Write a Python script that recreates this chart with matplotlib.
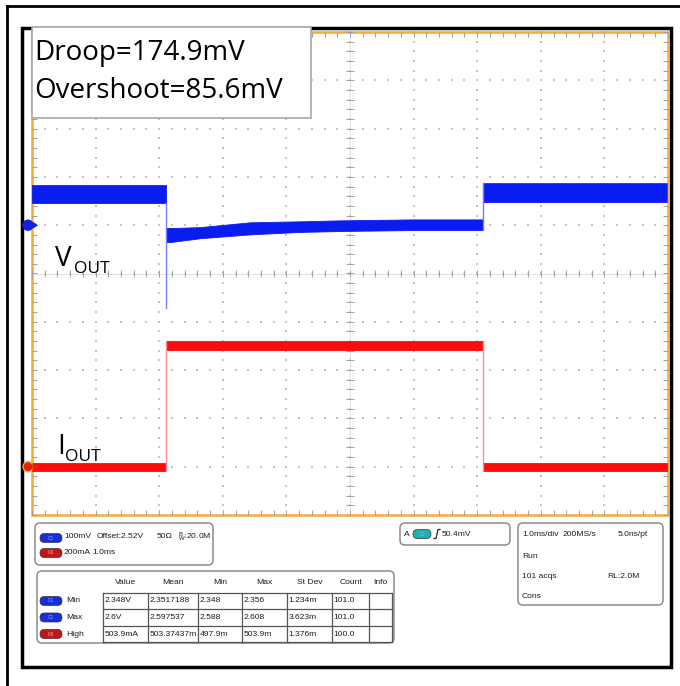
"""Load-step transient capture (Vout droop / overshoot) redrawn as a scope screen."""
import matplotlib as mpl
mpl.use("Agg")
import matplotlib.pyplot as plt
from matplotlib.patches import FancyBboxPatch, Rectangle, Circle, Polygon
import numpy as np

# C1: Vout noise envelope (time in ms, volts)
v_t = [0.0, 2.107, 2.107, 2.17, 2.64, 3.43, 4.2, 4.84, 6.0, 7.09, 7.09, 9.98]
v_upper = [2.603, 2.603, 2.514, 2.514, 2.516, 2.526, 2.528, 2.530, 2.532, 2.532, 2.607, 2.607]
v_lower = [2.566, 2.566, 2.485, 2.485, 2.493, 2.501, 2.506, 2.508, 2.510, 2.510, 2.568, 2.568]
v_droop_t = [2.107, 2.107]
v_droop = [2.566, 2.348]
v_rise_t = [7.09, 7.09]
v_rise = [2.510, 2.607]

# M1: Iout envelope (time in ms, amps)
i_t = [0.0, 2.107, 2.107, 7.09, 7.09, 9.98]
i_upper = [0.017, 0.017, 0.522, 0.522, 0.017, 0.017]
i_lower = [-0.017, -0.017, 0.485, 0.485, -0.017, -0.017]
i_edge_t = [[2.107, 2.107], [7.09, 7.09]]
i_edge = [[-0.017, 0.522], [0.522, -0.017]]

# scope settings
v_per_div = 0.1
v_offset = 2.52     # C1 marker sits one division above centre
i_per_div = 0.2
ms_per_div = 1.0

annot_lines = ["Droop=174.9mV", "Overshoot=85.6mV"]

ch_info = [["100mV", "Offset:2.52V", "50\u03a9", r"$\mathregular{^B_W}$:20.0M"],
           ["200mA", "1.0ms"]]
trig_level = "50.4mV"
timebase = [["1.0ms/div", "200MS/s", "5.0ns/pt"], ["Run"], ["101 acqs", "RL:2.0M"], ["Cons"]]

meas_cols = ["Value", "Mean", "Min", "Max", "St Dev", "Count", "Info"]
meas_rows = ["Min", "Max", "High"]
meas_src = ["C1", "C1", "M1"]
meas_vals = [["2.348V", "2.3517188", "2.348", "2.356", "1.234m", "101.0", ""],
             ["2.6V", "2.597537", "2.588", "2.608", "3.623m", "101.0", ""],
             ["503.9mA", "503.37437m", "497.9m", "503.9m", "1.376m", "100.0", ""]]

BLUE = "#0a1cf0"
RED = "#ff0a0a"
ORANGE = "#f2aa3a"
SMALL = ["Liberation Sans", "DejaVu Sans"]
BIG = ["Open Sans", "DejaVu Sans"]

W, H = 680, 686
fig = plt.figure(figsize=(W / 100, H / 100), dpi=100)


def px_box(x0, y0, x1, y1):
    return [x0 / W, 1 - y1 / H, (x1 - x0) / W, (y1 - y0) / H]


bg = fig.add_axes([0, 0, 1, 1])
bg.set_xlim(0, W)
bg.set_ylim(H, 0)
bg.axis("off")

# frames
bg.plot([7, 7], [6, H], color="black", lw=2)
bg.plot([7, W], [6, 6], color="black", lw=2)
bg.add_patch(Rectangle((22, 28), 649, 639, fill=False, ec="black", lw=2.5))

# ---- graticule ----
SX0, SY0, SX1, SY1 = 32, 32, 668, 515
gax = fig.add_axes(px_box(SX0, SY0, SX1, SY1))
gax.set_xlim(0, 10)
gax.set_ylim(-5, 5)
gax.axis("off")
minor_x = np.arange(0, 10.01, 0.2)
minor_y = np.arange(-5, 5.01, 0.2)
dot_kw = dict(s=1.6, marker="s", color="#c4c4c4", linewidths=0, clip_on=False)
for gx in range(1, 10):
    gax.scatter(np.full(minor_y.size, gx), minor_y, **dot_kw)
for gy in range(-4, 5):
    gax.scatter(minor_x, np.full(minor_x.size, gy), **dot_kw)
tick_c = "#a0a0a0"
# centre cross
gax.plot([0, 10], [0, 0], color="#dadada", lw=0.6)
gax.plot([5, 5], [-5, 5], color="#dadada", lw=0.6)
gax.vlines(minor_x, -0.07, 0.07, color=tick_c, lw=0.7)
gax.hlines(minor_y, 4.93, 5.07, color=tick_c, lw=0.7)
# edge ticks
gax.vlines(minor_x, -5, -4.9, color=tick_c, lw=0.7, clip_on=False)
gax.vlines(minor_x, 4.9, 5, color=tick_c, lw=0.7, clip_on=False)
gax.hlines(minor_y, 0, 0.08, color=tick_c, lw=0.7, clip_on=False)
gax.hlines(minor_y, 9.92, 10, color=tick_c, lw=0.7, clip_on=False)
gax.add_patch(Rectangle((0, -5), 10, 10, fill=False, ec=ORANGE, lw=1.8, clip_on=False))

# ---- traces ----
ax_v = fig.add_axes(px_box(SX0, SY0, SX1, SY1), label="vout")
ax_v.set_xlim(0, 10 * ms_per_div)
ax_v.set_ylim(v_offset - 6 * v_per_div, v_offset + 4 * v_per_div)
ax_v.axis("off")
ax_v.fill_between(v_t, v_lower, v_upper, color=BLUE, lw=0.6, ec=BLUE)
ax_v.plot(v_droop_t, v_droop, color="#7a7aff", lw=1.0)
ax_v.plot(v_rise_t, v_rise, color="#7a7aff", lw=1.0)

ax_i = fig.add_axes(px_box(SX0, SY0, SX1, SY1), label="iout")
ax_i.set_xlim(0, 10 * ms_per_div)
ax_i.set_ylim(-1 * i_per_div, 9 * i_per_div)
ax_i.axis("off")
for et, ev in zip(i_edge_t, i_edge):
    ax_i.plot(et, ev, color="#f59090", lw=1.0)
ax_i.fill_between(i_t, i_lower, i_upper, color=RED, lw=0.6, ec=RED)

# ---- overlay: markers, labels, annotation, panels ----
top = fig.add_axes([0, 0, 1, 1], label="overlay")
top.set_xlim(0, W)
top.set_ylim(H, 0)
top.axis("off")

# channel ground markers (placed with the channel scales)
yv_mark = SY0 + (5 - 1) * (SY1 - SY0) / 10
yi_mark = SY0 + (5 + 4) * (SY1 - SY0) / 10
top.add_patch(Circle((28, yv_mark), 5, color="#1020e0"))
top.add_patch(Polygon([[33, yv_mark - 2.5], [37, yv_mark], [33, yv_mark + 2.5]], color="#1020e0"))
top.add_patch(Circle((28, yi_mark), 5, fc="#e8200a", ec="#f2a040", lw=1))
top.add_patch(Polygon([[33, yi_mark - 2.5], [37, yi_mark], [33, yi_mark + 2.5]], color="#e8200a"))

top.text(55, 266, "V", fontsize=20, family=BIG, va="baseline")
top.text(74, 273, "OUT", fontsize=12.5, family=BIG, va="baseline")
top.text(57, 454, "I", fontsize=20, family=BIG, va="baseline")
top.text(65, 461, "OUT", fontsize=12.5, family=BIG, va="baseline")

top.add_patch(Rectangle((32, 27), 279, 91, fc="white", ec="#a8a8a8", lw=1.2))
for k, line in enumerate(annot_lines):
    top.text(34, 53 + 38 * k, line, fontsize=20, family=BIG, va="center")


def panel(x0, y0, x1, y1):
    top.add_patch(FancyBboxPatch((x0, y0), x1 - x0, y1 - y0,
                                 boxstyle="round,pad=0,rounding_size=5",
                                 fc="white", ec="#8c8c8c", lw=1.1))


def pill(cx, cy, label, color, w=22, h=9):
    top.add_patch(FancyBboxPatch((cx - w / 2, cy - h / 2), w, h,
                                 boxstyle="round,pad=0,rounding_size=4.4",
                                 fc=color, ec="#333333", lw=0.5))
    top.text(cx, cy, label, fontsize=3.5, color="#9aa0ff" if color != "#c01818" else "#ff9090",
             ha="center", va="center", family=SMALL)


txt = dict(fontsize=6.1, family=SMALL, va="center", color="#1c1c1c")

# channel info
panel(35, 523, 213, 565)
pill(51, 538, "C1", "#1530d8")
pill(51, 553, "M1", "#c01818")
for x, s in zip([64, 97, 157, 178], ch_info[0]):
    top.text(x, 537, s, **txt)
for x, s in zip([64, 92], ch_info[1]):
    top.text(x, 553, s, **txt)

# trigger
panel(400, 523, 510, 545)
top.text(404, 534, "A", **txt)
pill(422, 534, "C2", "#20b0b0", w=18)
top.plot([434, 436, 438, 440], [538.5, 538.5, 529.5, 529.5], color="#262626", lw=0.9)
top.text(442, 534, trig_level, **txt)

# timebase
panel(518, 523, 663, 605)
top.text(522, 534, timebase[0][0], **txt)
top.text(563, 534, timebase[0][1], **txt)
top.text(648, 534, timebase[0][2], ha="right", **txt)
top.text(522, 557, timebase[1][0], **txt)
top.text(522, 577, timebase[2][0], **txt)
top.text(640, 577, timebase[2][1], ha="right", **txt)
top.text(522, 597, timebase[3][0], **txt)

# measurement table
panel(37, 571, 394, 643)
col_edges = [103, 148, 198, 242, 287, 332, 369, 392]
row_edges = [593, 609, 626, 642]
for k, name in enumerate(meas_cols):
    top.text((col_edges[k] + col_edges[k + 1]) / 2, 583, name, ha="center", **txt)
for x in col_edges:
    top.plot([x, x], [row_edges[0], row_edges[-1]], color="#555555", lw=0.9)
for y in row_edges:
    top.plot([col_edges[0], col_edges[-1]], [y, y], color="#555555", lw=0.9)
for r, (name, src) in enumerate(zip(meas_rows, meas_src)):
    cy = (row_edges[r] + row_edges[r + 1]) / 2
    pill(51, cy, src, "#1530d8" if src == "C1" else "#c01818")
    top.text(66, cy, name, **txt)
    for c, val in enumerate(meas_vals[r]):
        top.text(col_edges[c] + 1.5, cy, val, **txt)

fig.savefig("out.png", dpi=100)
plt.close(fig)
